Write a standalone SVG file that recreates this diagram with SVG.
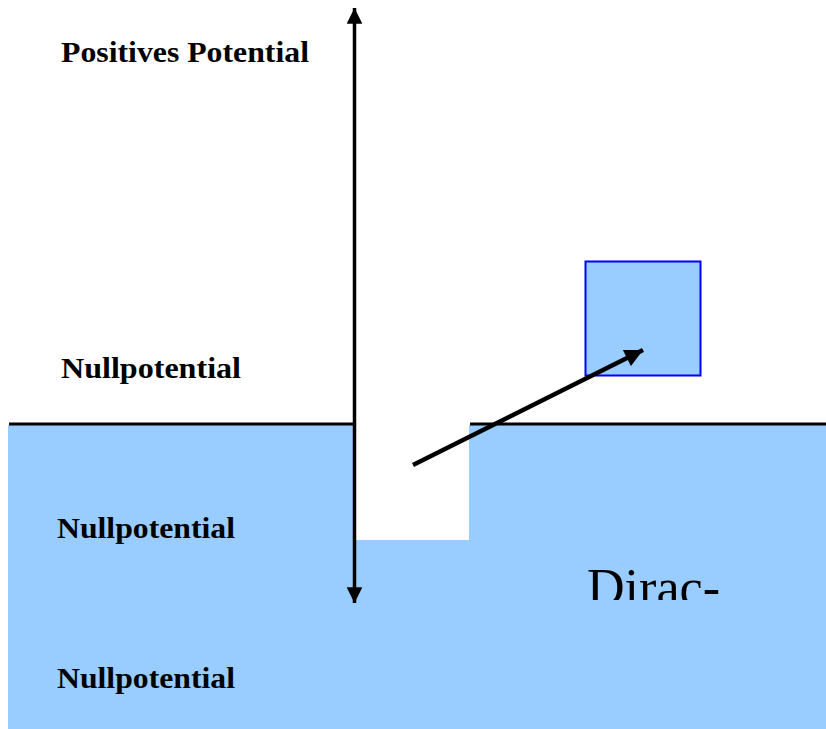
<svg xmlns="http://www.w3.org/2000/svg" width="826" height="729" viewBox="0 0 826 729">
<defs>
<style>
.lbl{font-family:"Liberation Serif","Times New Roman",serif;font-weight:bold;font-size:29px;fill:#000}
.line{stroke:#000;fill:none}
</style>
<marker id="ah" viewBox="0 0 10 10" refX="10" refY="5" markerWidth="4.5" markerHeight="4.5" orient="auto-start-reverse" markerUnits="strokeWidth">
<path d="M0,0 L10,5 L0,10 z" fill="#000"/>
</marker>
<marker id="ah2" viewBox="0 0 10 10" refX="10" refY="5" markerWidth="4.5" markerHeight="4" orient="auto" markerUnits="strokeWidth">
<path d="M0,0 L10,5 L0,10 z" fill="#000"/>
</marker>
<clipPath id="dclip"><rect x="560" y="540" width="200" height="60"/></clipPath>
</defs>
<rect width="826" height="729" fill="#fff"/>
<g id="sea">
<path d="M8,425 H356 V540 H469 V425 H826 V729 H8 Z" fill="#99CCFF"/>
</g>
<g id="box">
<rect x="585.5" y="261.5" width="115" height="114" fill="#99CCFF" stroke="#0000FF" stroke-width="2"/>
</g>
<g id="dirac">
<text x="587" y="605" clip-path="url(#dclip)" font-family="'Liberation Serif','Times New Roman',serif" font-size="52" textLength="133" lengthAdjust="spacingAndGlyphs">Dirac-</text>
</g>
<g id="labels">
<text class="lbl" x="61" y="62" textLength="248" lengthAdjust="spacingAndGlyphs">Positives Potential</text>
<text class="lbl" x="61" y="378" textLength="180" lengthAdjust="spacingAndGlyphs">Nullpotential</text>
<text class="lbl" x="57" y="538" textLength="178" lengthAdjust="spacingAndGlyphs">Nullpotential</text>
<text class="lbl" x="57" y="688" textLength="178" lengthAdjust="spacingAndGlyphs">Nullpotential</text>
</g>
<g id="connectors">
<line class="line" x1="9" y1="424" x2="356" y2="424" stroke-width="3"/>
<line class="line" x1="470" y1="424" x2="826" y2="424" stroke-width="3"/>
<line class="line" x1="354.5" y1="8" x2="354.5" y2="603" stroke-width="3.5" marker-start="url(#ah)" marker-end="url(#ah)"/>
<line class="line" x1="413" y1="465" x2="643" y2="350" stroke-width="4.5" marker-end="url(#ah2)"/>
</g>
</svg>
